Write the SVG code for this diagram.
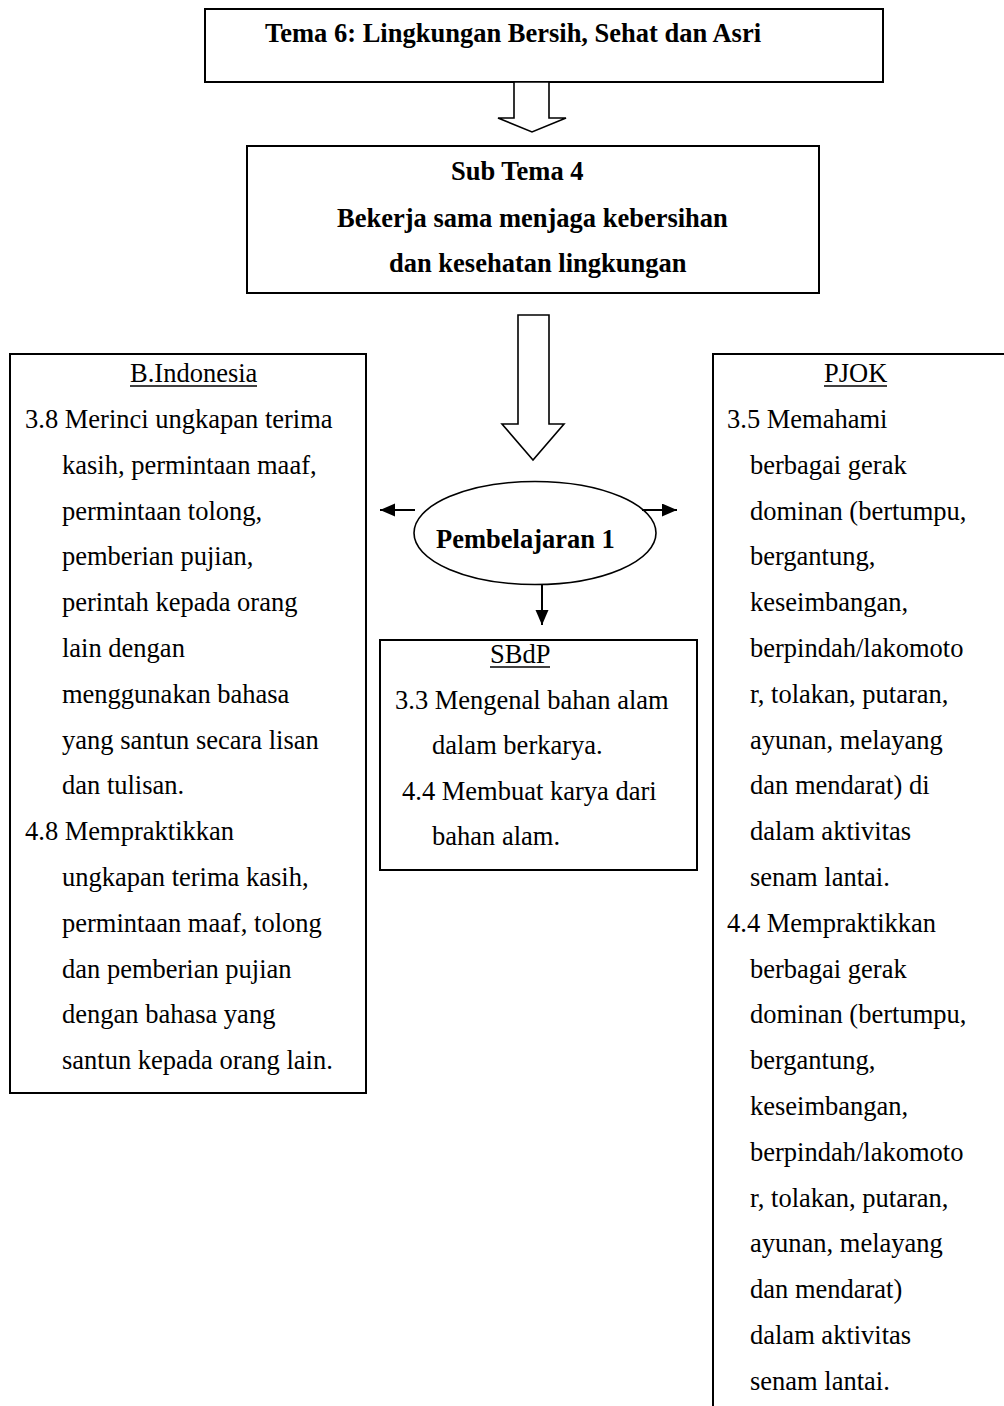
<svg xmlns="http://www.w3.org/2000/svg" width="1004" height="1406" viewBox="0 0 1004 1406">
<style>
text{font-family:"Liberation Serif","Times New Roman",serif;font-size:26.5px;fill:#000}
.b{font-weight:bold}
.box{fill:#fff;stroke:#000;stroke-width:2}
.hollow{fill:#fff;stroke:#000;stroke-width:1.6;stroke-linejoin:miter}
.conn{stroke:#000;stroke-width:2;fill:none}
.ul{stroke:#000;stroke-width:1.3}
</style>
<defs>
<marker id="ah" markerUnits="userSpaceOnUse" markerWidth="16" markerHeight="14" refX="15" refY="6.5" orient="auto">
<path d="M0,0 L15,6.5 L0,13 Z" fill="#000"/>
</marker>
</defs>
<rect width="1004" height="1406" fill="#fff"/>

<g id="tema">
<rect class="box" x="205" y="9" width="678" height="73"/>
<text class="b" x="265" y="42">Tema 6: Lingkungan Bersih, Sehat dan Asri</text>
</g>

<g id="subtema">
<rect class="box" x="247" y="146" width="572" height="147"/>
<text class="b" x="451" y="180">Sub Tema 4</text>
<text class="b" x="337" y="227">Bekerja sama menjaga kebersihan</text>
<text class="b" x="389" y="272">dan kesehatan lingkungan</text>
</g>

<g id="pembelajaran">
<ellipse cx="535" cy="533" rx="121" ry="51.5" fill="#fff" stroke="#000" stroke-width="1.6"/>
<text class="b" x="436" y="548">Pembelajaran 1</text>
</g>

<g id="bindonesia">
<rect class="box" x="10" y="354" width="356" height="739"/>
<text x="130" y="382">B.Indonesia</text>
<line class="ul" x1="130" y1="386" x2="257" y2="386"/>
<text x="25" y="428">3.8 Merinci ungkapan terima</text>
<text x="62" y="473.8">kasih, permintaan maaf,</text>
<text x="62" y="519.6">permintaan tolong,</text>
<text x="62" y="565.4">pemberian pujian,</text>
<text x="62" y="611.2">perintah kepada orang</text>
<text x="62" y="657">lain dengan</text>
<text x="62" y="702.8">menggunakan bahasa</text>
<text x="62" y="748.6">yang santun secara lisan</text>
<text x="62" y="794.4">dan tulisan.</text>
<text x="25" y="840.2">4.8 Mempraktikkan</text>
<text x="62" y="886">ungkapan terima kasih,</text>
<text x="62" y="931.8">permintaan maaf, tolong</text>
<text x="62" y="977.6">dan pemberian pujian</text>
<text x="62" y="1023.4">dengan bahasa yang</text>
<text x="62" y="1069.2">santun kepada orang lain.</text>
</g>

<g id="sbdp">
<rect class="box" x="380" y="640" width="317" height="230"/>
<text x="490" y="663">SBdP</text>
<line class="ul" x1="490" y1="667" x2="550" y2="667"/>
<text x="395" y="708.5">3.3 Mengenal bahan alam</text>
<text x="432" y="754">dalam berkarya.</text>
<text x="402" y="799.5">4.4 Membuat karya dari</text>
<text x="432" y="845">bahan alam.</text>
</g>

<g id="pjok">
<path d="M1004,354 H713 V1406" fill="none" stroke="#000" stroke-width="2"/>
<text x="824" y="382">PJOK</text>
<line class="ul" x1="824" y1="386" x2="887" y2="386"/>
<text x="727" y="428">3.5 Memahami</text>
<text x="750" y="473.8">berbagai gerak</text>
<text x="750" y="519.6">dominan (bertumpu,</text>
<text x="750" y="565.4">bergantung,</text>
<text x="750" y="611.2">keseimbangan,</text>
<text x="750" y="657">berpindah/lakomoto</text>
<text x="750" y="702.8">r, tolakan, putaran,</text>
<text x="750" y="748.6">ayunan, melayang</text>
<text x="750" y="794.4">dan mendarat) di</text>
<text x="750" y="840.2">dalam aktivitas</text>
<text x="750" y="886">senam lantai.</text>
<text x="727" y="931.8">4.4 Mempraktikkan</text>
<text x="750" y="977.6">berbagai gerak</text>
<text x="750" y="1023.4">dominan (bertumpu,</text>
<text x="750" y="1069.2">bergantung,</text>
<text x="750" y="1115">keseimbangan,</text>
<text x="750" y="1160.8">berpindah/lakomoto</text>
<text x="750" y="1206.6">r, tolakan, putaran,</text>
<text x="750" y="1252.4">ayunan, melayang</text>
<text x="750" y="1298.2">dan mendarat)</text>
<text x="750" y="1344">dalam aktivitas</text>
<text x="750" y="1389.8">senam lantai.</text>
</g>

<g id="connectors">
<polygon class="hollow" points="514,82 549,82 549,118 566,118 532,132 498,118 514,118"/>
<polygon class="hollow" points="518,315 549,315 549,424 564,424 533,460 502,424 518,424"/>
<line class="conn" x1="415" y1="510" x2="380" y2="510" marker-end="url(#ah)"/>
<line class="conn" x1="642" y1="510" x2="677" y2="510" marker-end="url(#ah)"/>
<line class="conn" x1="542" y1="585" x2="542" y2="625" marker-end="url(#ah)"/>
</g>
</svg>
